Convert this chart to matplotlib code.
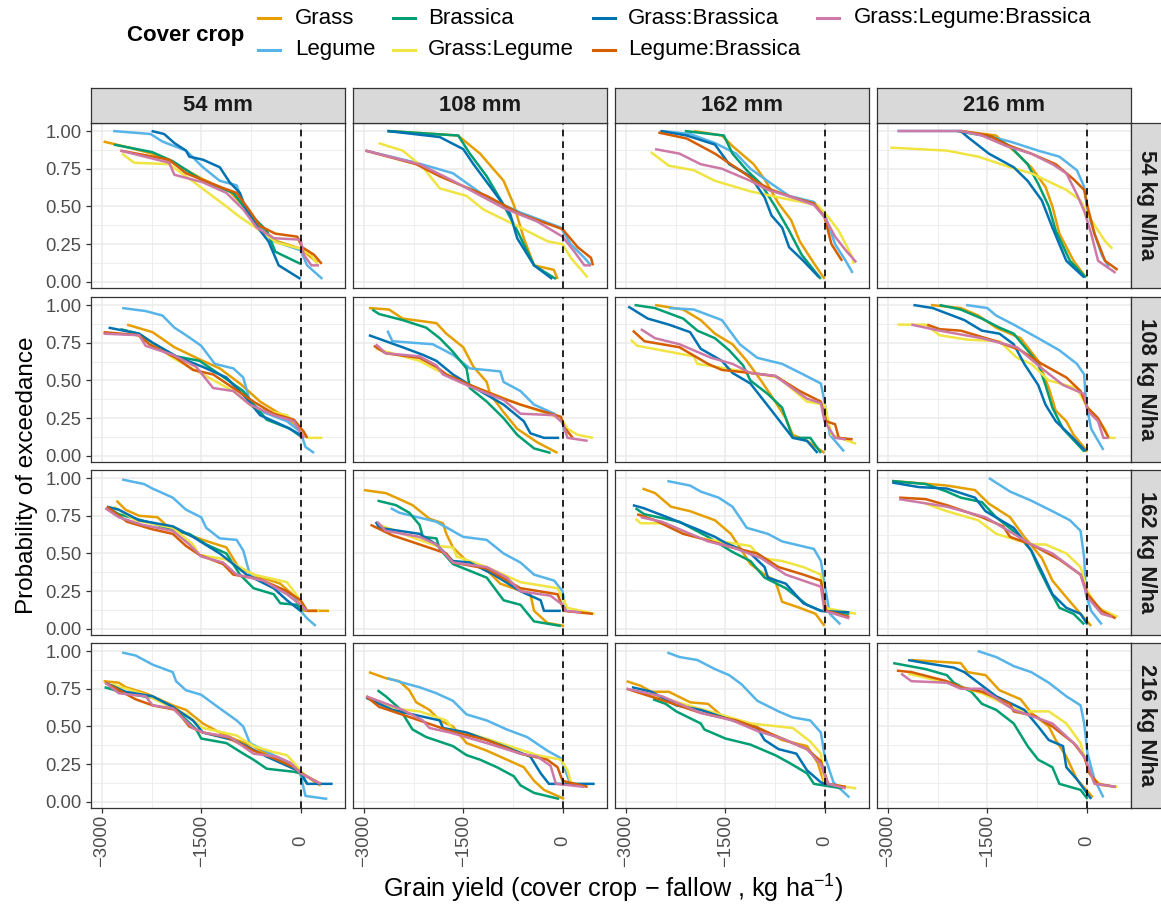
import matplotlib
matplotlib.use("Agg")
import matplotlib.pyplot as plt
from matplotlib.lines import Line2D

plt.rcParams['font.family'] = ['Liberation Sans', 'DejaVu Sans']
plt.rcParams['mathtext.fontset'] = 'custom'
plt.rcParams['mathtext.rm'] = 'Liberation Sans'
plt.rcParams['mathtext.it'] = 'Liberation Sans:italic'
plt.rcParams['mathtext.bf'] = 'Liberation Sans:bold'

# facet labels
RAIN = ['54 mm', '108 mm', '162 mm', '216 mm']
NRATE = ['54 kg N/ha', '108 kg N/ha', '162 kg N/ha', '216 kg N/ha']

COVER_CROPS = ['Grass', 'Legume', 'Brassica', 'Grass:Legume', 'Grass:Brassica',
               'Legume:Brassica', 'Grass:Legume:Brassica']
COLOURS = ['#E69F00', '#56B4E9', '#009E73', '#F0E442', '#0072B2', '#D55E00', '#CC79A7']

# each list: 16 curves, row-major (N rate rows x rainfall columns)
# points are (yield difference kg/ha, probability of exceedance)
GRASS = [
    [(-2975, .93), (-2590, .89), (-2240, .85), (-1930, .79), (-1475, .68), (-1070, .60), (-815, .48), (-610, .36), (-355, .27), (0, .22), (255, .13)],
    [(-2645, 1.0), (-1580, .97), (-1245, .85), (-890, .67), (-735, .51), (-585, .29), (-430, .11), (-130, .08), (-75, .02)],
    [(-1975, 1.0), (-1550, .97), (-1390, .90), (-1070, .78), (-905, .68), (-695, .52), (-505, .41), (-375, .27), (-185, .14), (0, .02)],
    [(-1900, 1.0), (-1370, .97), (-1100, .87), (-835, .76), (-620, .63), (-515, .50), (-410, .32), (-195, .14), (-10, .03)],
    [(-2620, .87), (-2235, .82), (-1905, .72), (-1525, .64), (-1220, .58), (-915, .48), (-610, .36), (-205, .25), (0, .18), (100, .12)],
    [(-2925, .98), (-2620, .97), (-2415, .91), (-1905, .88), (-1755, .81), (-1500, .72), (-1345, .59), (-1145, .49), (-1095, .41), (-890, .29), (-685, .18), (-380, .09), (-75, .02)],
    [(-2560, 1.0), (-2135, .97), (-1870, .90), (-1655, .81), (-1390, .74), (-1175, .63), (-960, .50), (-745, .36), (-585, .25), (-480, .14), (-265, .10), (0, .02)],
    [(-2350, 1.0), (-1900, .98), (-1635, .93), (-1365, .85), (-995, .78), (-730, .63), (-570, .45), (-465, .30), (-305, .23), (-195, .14), (15, .03)],
    [(-2780, .85), (-2645, .79), (-2440, .75), (-2160, .74), (-2035, .69), (-1730, .63), (-1475, .59), (-1120, .54), (-940, .41), (-710, .36), (-305, .30), (-100, .22), (50, .12), (430, .12)],
    [(-3000, .92), (-2670, .90), (-2515, .87), (-2265, .82), (-2010, .73), (-1805, .70), (-1755, .63), (-1655, .54), (-1450, .45), (-1145, .39), (-940, .30), (-485, .23), (-430, .12), (-230, .04), (25, .02)],
    [(-2750, .93), (-2560, .90), (-2320, .81), (-2030, .78), (-1655, .72), (-1415, .63), (-1280, .54), (-1120, .43), (-905, .36), (-745, .32), (-640, .18), (-375, .14), (-135, .10), (0, .02)],
    [(-2940, .98), (-2110, .95), (-1685, .92), (-1475, .83), (-1155, .74), (-940, .61), (-675, .47), (-515, .32), (-305, .21), (-90, .10), (70, .02)],
    [(-2975, .80), (-2745, .79), (-2640, .76), (-2340, .72), (-1930, .64), (-1730, .61), (-1475, .52), (-1220, .46), (-965, .41), (-710, .37), (-405, .29), (0, .20), (255, .12), (305, .11)],
    [(-2925, .86), (-2670, .82), (-2465, .80), (-2315, .74), (-2210, .66), (-2010, .61), (-1855, .54), (-1655, .50), (-1450, .39), (-1145, .34), (-840, .28), (-585, .23), (-430, .14), (-280, .08), (25, .02)],
    [(-2990, .80), (-2780, .77), (-2615, .73), (-2350, .73), (-2030, .66), (-1760, .65), (-1550, .57), (-1120, .52), (-905, .47), (-640, .41), (-265, .37), (-105, .26), (0, .12), (320, .10)],
    [(-2645, .94), (-1900, .92), (-1795, .86), (-1525, .84), (-1315, .74), (-995, .68), (-835, .59), (-570, .50), (-465, .41), (-305, .30), (-145, .15), (95, .03)],
]

LEGUME = [
    [(-2830, 1.0), (-2265, .98), (-2085, .93), (-1730, .87), (-1475, .76), (-1220, .67), (-965, .64), (-865, .51), (-710, .40), (-405, .27), (0, .21), (100, .11), (330, .02)],
    [(-2975, .87), (-2210, .79), (-1655, .72), (-1145, .56), (-635, .46), (-25, .36), (125, .25), (330, .16), (430, .11)],
    [(-2455, 1.0), (-2030, .98), (-1655, .92), (-1335, .85), (-1120, .75), (-800, .65), (-535, .57), (-160, .53), (0, .45), (160, .25), (320, .14), (425, .06)],
    [(-2855, 1.0), (-1900, 1.0), (-1525, .97), (-1155, .93), (-730, .87), (-410, .83), (-145, .74), (-35, .63), (15, .47), (120, .32), (230, .18), (335, .10)],
    [(-2695, .98), (-2340, .96), (-2085, .93), (-1905, .85), (-1730, .80), (-1500, .73), (-1295, .61), (-1015, .58), (-865, .52), (-765, .36), (-560, .29), (-205, .23), (0, .16), (75, .06), (205, .02)],
    [(-2645, .83), (-2570, .76), (-1960, .74), (-1655, .67), (-1400, .58), (-940, .56), (-890, .49), (-635, .43), (-430, .34), (-125, .28), (0, .23), (25, .16)],
    [(-2350, .98), (-1975, .97), (-1550, .90), (-1280, .74), (-1015, .65), (-640, .61), (-320, .54), (-55, .48), (0, .36), (80, .14), (295, .03)],
    [(-1820, 1.0), (-1500, .98), (-1365, .93), (-1100, .87), (-730, .78), (-410, .70), (-145, .61), (-35, .54), (-10, .36), (70, .18), (255, .04)],
    [(-2695, .99), (-2365, .96), (-2235, .93), (-1930, .87), (-1730, .79), (-1500, .74), (-1425, .67), (-1220, .60), (-965, .59), (-865, .52), (-765, .36), (-405, .27), (-100, .22), (0, .12), (100, .07), (230, .02)],
    [(-2595, .80), (-2465, .77), (-1905, .71), (-1500, .61), (-1145, .59), (-890, .50), (-635, .44), (-430, .36), (-125, .32), (0, .25), (50, .12)],
    [(-2375, .98), (-2030, .95), (-1870, .91), (-1600, .87), (-1390, .81), (-1175, .67), (-855, .63), (-640, .58), (-160, .53), (-55, .45), (0, .30), (80, .10), (240, .03)],
    [(-1475, 1.0), (-1155, .91), (-835, .85), (-515, .78), (-250, .72), (-90, .65), (-35, .47), (-10, .23), (70, .12), (230, .03)],
    [(-2695, .99), (-2490, .97), (-2235, .91), (-1930, .86), (-1880, .80), (-1730, .74), (-1500, .71), (-1220, .62), (-965, .54), (-865, .50), (-765, .39), (-405, .31), (-100, .24), (0, .18), (75, .04), (405, .02)],
    [(-2645, .82), (-2415, .79), (-2160, .76), (-1905, .72), (-1655, .67), (-1450, .58), (-1145, .54), (-840, .48), (-535, .43), (-230, .34), (-25, .29), (25, .23), (125, .11)],
    [(-2375, .99), (-2190, .96), (-1920, .94), (-1655, .88), (-1440, .84), (-1255, .78), (-1015, .67), (-695, .60), (-480, .56), (-215, .54), (-55, .46), (0, .31), (135, .13), (375, .03)],
    [(-1645, 1.0), (-1365, .96), (-1100, .90), (-835, .86), (-570, .79), (-305, .70), (-90, .64), (-35, .52), (15, .32), (120, .15), (255, .03)],
]

BRASSICA = [
    [(-2820, .91), (-2240, .86), (-1930, .80), (-1475, .67), (-1015, .59), (-765, .45), (-510, .34), (-380, .20), (0, .12)],
    [(-2645, 1.0), (-1575, .97), (-1400, .85), (-1145, .70), (-890, .51), (-685, .34), (-430, .11), (-100, .02)],
    [(-2110, 1.0), (-1520, .97), (-1390, .85), (-1175, .74), (-960, .65), (-745, .50), (-535, .34), (-345, .18), (-55, .02)],
    [(-1955, 1.0), (-1420, .96), (-1155, .90), (-890, .78), (-730, .65), (-570, .50), (-465, .34), (-250, .14), (-10, .03)],
    [(-2720, .84), (-2440, .81), (-2240, .75), (-1880, .66), (-1525, .63), (-1220, .54), (-865, .43), (-710, .34), (-510, .24), (-155, .18), (0, .13)],
    [(-2875, .97), (-2770, .94), (-2415, .90), (-2060, .85), (-1855, .78), (-1655, .69), (-1450, .58), (-1400, .45), (-1145, .36), (-890, .25), (-685, .14), (-430, .05), (-180, .02)],
    [(-2870, 1.0), (-2565, .98), (-2135, .91), (-1920, .83), (-1655, .78), (-1440, .70), (-1230, .60), (-1120, .50), (-855, .41), (-640, .32), (-480, .12), (-215, .12), (-55, .02)],
    [(-2220, 1.0), (-1900, .97), (-1580, .91), (-1315, .85), (-1100, .81), (-835, .67), (-730, .61), (-620, .47), (-515, .32), (-355, .18), (-35, .03)],
    [(-2900, .80), (-2745, .76), (-2235, .70), (-1905, .65), (-1680, .63), (-1425, .56), (-1120, .50), (-915, .36), (-710, .27), (-405, .23), (-305, .17), (-50, .16), (25, .12)],
    [(-2795, .85), (-2515, .82), (-2315, .77), (-2160, .69), (-2110, .61), (-1905, .60), (-1855, .53), (-1655, .43), (-1145, .34), (-890, .19), (-635, .16), (-430, .05), (-25, .02)],
    [(-2855, .80), (-2725, .76), (-2190, .71), (-1760, .61), (-1390, .51), (-1120, .45), (-905, .34), (-585, .27), (-265, .16), (-55, .12), (375, .10)],
    [(-2935, .98), (-2430, .96), (-2110, .91), (-1900, .87), (-1580, .84), (-1365, .74), (-1050, .63), (-835, .52), (-730, .41), (-570, .27), (-410, .14), (-195, .10), (-35, .03)],
    [(-2960, .76), (-2645, .72), (-2235, .69), (-1930, .63), (-1575, .48), (-1500, .42), (-1120, .39), (-865, .32), (-710, .28), (-510, .22), (-100, .20), (0, .19), (100, .12)],
    [(-2795, .74), (-2670, .70), (-2465, .62), (-2265, .48), (-2060, .43), (-1655, .37), (-1450, .31), (-1245, .28), (-990, .23), (-735, .17), (-635, .11), (-430, .06), (-50, .02)],
    [(-2590, .68), (-2400, .65), (-2240, .60), (-1870, .52), (-1815, .48), (-1495, .42), (-1120, .38), (-745, .31), (-535, .26), (-265, .19), (-160, .12), (265, .09)],
    [(-2920, .92), (-2430, .88), (-2110, .84), (-2005, .79), (-1740, .73), (-1580, .65), (-1365, .61), (-1100, .52), (-890, .37), (-730, .28), (-515, .23), (-410, .12), (-90, .08), (15, .02)],
]

GRASS_LEGUME = [
    [(-2695, .85), (-2515, .79), (-1985, .78), (-1575, .65), (-1120, .50), (-915, .43), (-610, .34), (-355, .26), (0, .22), (155, .18), (255, .12)],
    [(-2780, .92), (-2415, .87), (-2110, .76), (-1855, .62), (-1450, .57), (-1195, .48), (-635, .36), (-230, .27), (0, .25), (125, .16), (380, .03)],
    [(-2625, .86), (-2350, .77), (-1975, .74), (-1655, .67), (-1120, .60), (-585, .55), (-105, .51), (55, .43), (215, .34), (425, .16), (440, .12)],
    [(-2965, .89), (-2110, .87), (-1635, .83), (-1155, .76), (-835, .72), (-305, .61), (-90, .54), (15, .45), (175, .34), (280, .27), (390, .22)],
    [(-2620, .83), (-2240, .75), (-1930, .65), (-1475, .54), (-1015, .43), (-710, .32), (-205, .27), (0, .18), (100, .12), (330, .12)],
    [(-2820, .71), (-2160, .63), (-1905, .57), (-1400, .47), (-635, .34), (-25, .25), (75, .18), (230, .14), (460, .12)],
    [(-2925, .77), (-2830, .73), (-1975, .66), (-1920, .61), (-1495, .58), (-695, .52), (-265, .36), (0, .34), (105, .14), (480, .08)],
    [(-2855, .87), (-2430, .87), (-2220, .80), (-1795, .77), (-1315, .76), (-1050, .65), (-835, .61), (-570, .50), (-145, .45), (15, .32), (280, .18), (335, .12), (440, .12)],
    [(-2820, .81), (-2490, .72), (-1930, .67), (-1625, .56), (-1525, .49), (-1120, .46), (-710, .36), (-405, .33), (-205, .31), (0, .19), (100, .12), (280, .12)],
    [(-2820, .70), (-2415, .63), (-1905, .55), (-1655, .54), (-1600, .48), (-1145, .41), (-635, .31), (-75, .27), (75, .14), (485, .10)],
    [(-2855, .73), (-2775, .70), (-2455, .70), (-1870, .60), (-1120, .55), (-960, .47), (-640, .45), (-320, .41), (-55, .36), (0, .14), (480, .10)],
    [(-2430, .83), (-2110, .78), (-1635, .72), (-1365, .63), (-835, .56), (-620, .56), (-305, .50), (-90, .41), (15, .25), (175, .14), (470, .08)],
    [(-2850, .78), (-2340, .71), (-1730, .58), (-1475, .49), (-965, .44), (-710, .37), (-405, .33), (-205, .31), (-100, .26), (50, .18), (305, .12)],
    [(-2965, .70), (-2570, .62), (-2160, .60), (-1755, .54), (-1655, .48), (-1450, .46), (-940, .39), (-380, .31), (-25, .28), (75, .21), (125, .13)],
    [(-2855, .73), (-2615, .71), (-1655, .59), (-1120, .52), (-480, .49), (-215, .40), (-55, .32), (0, .12), (480, .09)],
    [(-2695, .85), (-2110, .79), (-1580, .72), (-1100, .62), (-940, .60), (-570, .60), (-305, .52), (-90, .39), (-35, .30), (70, .17), (230, .11), (470, .10)],
]

GRASS_BRASSICA = [
    [(-2250, 1.0), (-2060, .98), (-1905, .92), (-1730, .87), (-1680, .83), (-1475, .81), (-1220, .76), (-1070, .66), (-915, .59), (-815, .47), (-610, .34), (-485, .27), (-330, .11), (0, .02)],
    [(-2645, 1.0), (-1855, .96), (-1500, .88), (-1345, .78), (-1040, .60), (-790, .45), (-685, .29), (-430, .11), (-155, .02)],
    [(-2480, 1.0), (-2080, .97), (-1655, .91), (-1440, .78), (-1120, .70), (-905, .56), (-800, .44), (-640, .36), (-535, .23), (-320, .14), (-80, .03)],
    [(-1900, 1.0), (-1795, .96), (-1475, .85), (-1100, .76), (-890, .67), (-675, .54), (-515, .36), (-305, .14), (-35, .03)],
    [(-2900, .85), (-2440, .81), (-2235, .75), (-1880, .66), (-1475, .59), (-1120, .52), (-815, .38), (-610, .27), (-205, .19), (0, .14), (50, .12)],
    [(-2925, .80), (-2415, .72), (-2110, .67), (-1905, .63), (-1655, .54), (-1400, .47), (-890, .34), (-585, .23), (-485, .15), (-280, .12), (-50, .12)],
    [(-2965, .99), (-2670, .91), (-2350, .87), (-2030, .82), (-1870, .71), (-1550, .63), (-1390, .55), (-1120, .48), (-905, .36), (-745, .27), (-480, .12), (-265, .10), (-105, .02)],
    [(-2615, 1.0), (-2325, .98), (-1845, .90), (-1580, .83), (-1315, .81), (-1100, .74), (-940, .61), (-730, .47), (-620, .34), (-465, .23), (-250, .14), (-10, .03)],
    [(-2925, .81), (-2745, .79), (-2440, .72), (-1930, .68), (-1625, .61), (-1220, .50), (-1015, .43), (-815, .36), (-405, .27), (-205, .19), (0, .12)],
    [(-2820, .71), (-2770, .67), (-2160, .63), (-1905, .56), (-1655, .45), (-1400, .44), (-1040, .36), (-635, .25), (-330, .19), (-280, .12), (-25, .12)],
    [(-2895, .82), (-2730, .80), (-2375, .74), (-1920, .66), (-1655, .61), (-1495, .57), (-1120, .50), (-905, .41), (-855, .34), (-585, .30), (-320, .17), (-55, .12), (375, .11)],
    [(-2935, .97), (-2535, .94), (-2110, .93), (-1685, .87), (-1525, .78), (-1100, .67), (-835, .52), (-675, .38), (-515, .23), (-305, .14), (-90, .10), (15, .03)],
    [(-2950, .79), (-2645, .73), (-2235, .70), (-1930, .63), (-1625, .54), (-1475, .46), (-1015, .41), (-815, .37), (-510, .30), (-205, .24), (0, .20), (100, .12), (485, .12)],
    [(-2965, .69), (-2570, .61), (-1855, .54), (-1805, .49), (-1450, .46), (-890, .37), (-485, .30), (-330, .19), (-205, .12), (485, .12)],
    [(-2910, .76), (-2615, .73), (-2240, .64), (-1870, .61), (-1390, .54), (-1015, .49), (-905, .41), (-695, .35), (-425, .32), (-265, .21), (-55, .13), (0, .12), (265, .10)],
    [(-2695, .94), (-2430, .92), (-2005, .89), (-1845, .86), (-1635, .79), (-1365, .70), (-940, .61), (-730, .50), (-570, .41), (-355, .37), (-305, .23), (-145, .15), (70, .02)],
]

LEGUME_BRASSICA = [
    [(-2720, .87), (-1985, .81), (-1730, .72), (-1220, .63), (-965, .59), (-765, .47), (-610, .37), (-380, .32), (-50, .30), (25, .23), (205, .18), (320, .12)],
    [(-2975, .87), (-2210, .78), (-1855, .70), (-1145, .57), (-635, .45), (0, .35), (230, .23), (430, .16), (460, .11)],
    [(-2510, .99), (-2080, .95), (-1655, .85), (-1280, .74), (-1015, .66), (-800, .61), (-480, .56), (-160, .52), (0, .43), (105, .25), (265, .14)],
    [(-1900, 1.0), (-1470, .97), (-1210, .91), (-835, .85), (-465, .78), (-195, .68), (-35, .61), (15, .50), (120, .32), (280, .14), (470, .08)],
    [(-2975, .82), (-2440, .80), (-2285, .74), (-1880, .65), (-1625, .57), (-1320, .54), (-1015, .45), (-710, .36), (-405, .28), (-100, .24), (50, .16), (100, .12)],
    [(-2850, .73), (-2670, .68), (-2160, .65), (-1905, .59), (-1755, .54), (-1400, .47), (-890, .38), (-635, .34), (-25, .26), (25, .19), (155, .12)],
    [(-2895, .83), (-2720, .76), (-2190, .72), (-1760, .61), (-1550, .57), (-1120, .55), (-745, .53), (-375, .43), (-55, .36), (25, .23), (160, .21), (215, .12), (425, .11)],
    [(-2405, .87), (-2220, .84), (-1900, .83), (-1365, .76), (-995, .70), (-675, .61), (-305, .52), (-90, .43), (15, .32), (175, .25), (335, .12)],
    [(-2925, .81), (-2620, .71), (-2235, .66), (-1930, .63), (-1730, .55), (-1525, .49), (-1170, .43), (-1015, .36), (-610, .33), (-205, .25), (0, .19), (100, .12), (255, .12)],
    [(-2900, .69), (-2570, .62), (-2160, .56), (-1755, .50), (-1655, .44), (-1145, .40), (-635, .27), (-75, .23), (25, .12), (460, .10)],
    [(-2830, .76), (-2560, .72), (-2135, .63), (-1870, .60), (-1390, .54), (-1015, .50), (-695, .41), (-320, .36), (-55, .32), (25, .12), (375, .08)],
    [(-2830, .87), (-2430, .86), (-2110, .82), (-1580, .74), (-1260, .68), (-1155, .61), (-835, .56), (-410, .46), (-90, .36), (15, .23), (230, .12), (440, .07)],
    [(-2950, .79), (-2490, .68), (-2235, .64), (-1880, .61), (-1680, .50), (-1475, .46), (-1120, .43), (-710, .34), (-405, .29), (-100, .23), (50, .18), (305, .12)],
    [(-2965, .70), (-2770, .63), (-2160, .54), (-1700, .47), (-1145, .41), (-635, .32), (-230, .28), (-75, .23), (0, .14), (380, .10)],
    [(-2990, .75), (-2350, .66), (-1870, .59), (-1335, .54), (-1015, .49), (-585, .41), (-265, .35), (-55, .27), (55, .12), (320, .10)],
    [(-2865, .87), (-2645, .86), (-2110, .80), (-1900, .76), (-1580, .73), (-1155, .65), (-1100, .60), (-780, .57), (-515, .50), (-195, .39), (-35, .30), (45, .19), (175, .12), (440, .10)],
]

GRASS_LEGUME_BRASSICA = [
    [(-2720, .87), (-1985, .79), (-1905, .71), (-1475, .66), (-1120, .59), (-865, .48), (-660, .36), (-405, .29), (0, .28), (50, .18), (165, .11), (280, .11)],
    [(-2975, .87), (-2160, .78), (-1655, .67), (-890, .49), (-380, .40), (0, .30), (180, .20), (330, .11), (430, .11)],
    [(-2560, .88), (-2190, .85), (-1870, .78), (-1550, .75), (-1120, .67), (-855, .61), (-480, .56), (-160, .51), (0, .43), (160, .30), (320, .21), (480, .13)],
    [(-2855, 1.0), (-1900, 1.0), (-1580, .97), (-1210, .90), (-835, .85), (-515, .78), (-305, .72), (-145, .58), (-35, .47), (70, .32), (175, .14), (440, .06)],
    [(-2975, .81), (-2440, .80), (-2340, .73), (-1930, .67), (-1575, .59), (-1320, .45), (-1015, .43), (-765, .34), (-405, .27), (-100, .23), (50, .12)],
    [(-2820, .74), (-2670, .68), (-2160, .66), (-1905, .60), (-1805, .54), (-1400, .46), (-890, .37), (-635, .28), (-125, .27), (0, .22), (75, .12), (380, .10)],
    [(-2775, .84), (-2560, .78), (-2190, .74), (-1710, .65), (-1390, .61), (-1120, .55), (-745, .53), (-265, .38), (-55, .35), (0, .23), (160, .12), (320, .11)],
    [(-2645, .87), (-2220, .83), (-1580, .78), (-1050, .72), (-675, .58), (-355, .47), (-35, .41), (15, .30), (175, .23), (255, .12), (335, .12)],
    [(-2950, .80), (-2745, .74), (-2390, .69), (-1930, .65), (-1680, .56), (-1500, .48), (-1170, .44), (-965, .36), (-560, .32), (-205, .23), (0, .16), (100, .12)],
    [(-2800, .71), (-2670, .65), (-2160, .61), (-1905, .56), (-1655, .44), (-1145, .41), (-840, .34), (-635, .25), (-180, .22), (0, .16), (50, .12), (280, .11)],
    [(-2775, .74), (-2455, .71), (-1760, .58), (-1390, .54), (-960, .47), (-585, .36), (-55, .28), (0, .12), (375, .07)],
    [(-2830, .86), (-2110, .81), (-1525, .74), (-1100, .63), (-835, .56), (-515, .50), (-90, .36), (15, .21), (230, .10), (390, .08)],
    [(-2950, .79), (-2745, .72), (-2340, .70), (-2235, .64), (-1930, .62), (-1625, .49), (-1475, .46), (-1070, .43), (-710, .32), (-355, .30), (-155, .26), (0, .19), (305, .12)],
    [(-2965, .70), (-2415, .61), (-2110, .54), (-2010, .49), (-1700, .46), (-1145, .39), (-635, .32), (-380, .30), (-180, .24), (-100, .12), (330, .10)],
    [(-2990, .75), (-2455, .70), (-1870, .59), (-1390, .54), (-1015, .47), (-640, .42), (-265, .35), (-55, .25), (55, .12), (320, .09)],
    [(-2800, .85), (-2645, .80), (-2110, .79), (-1900, .75), (-1580, .75), (-1100, .61), (-835, .57), (-515, .52), (-145, .37), (-10, .28), (120, .12), (440, .10)],
]

SERIES = [GRASS, LEGUME, BRASSICA, GRASS_LEGUME, GRASS_BRASSICA,
          LEGUME_BRASSICA, GRASS_LEGUME_BRASSICA]

W, H = 1161, 909
fig = plt.figure(figsize=(W / 100, H / 100), dpi=100)


def rect(left, top, w, h):
    return [left / W, 1 - (top + h) / H, w / W, h / H]


LEFTS = [91, 353, 615, 877]
TOPS = [123, 297, 470, 643]
PW, PH = 254, 165
BORDER = '#333333'
GRID = '#EBEBEB'
STRIP_FILL = '#D9D9D9'

for r in range(4):
    for c in range(4):
        ax = fig.add_axes(rect(LEFTS[c], TOPS[r], PW, PH))
        for curves, col in zip(SERIES, COLOURS):
            pts = curves[r * 4 + c]
            ax.plot([p[0] for p in pts], [p[1] for p in pts], color=col,
                    lw=1.8, solid_joinstyle='round', solid_capstyle='butt', zorder=3)
        ax.axvline(0, color='black', lw=1.2, ls=(0, (4, 3)), zorder=4)

        ax.set_xlim(-3165, 672)
        ax.set_ylim(-0.04, 1.053)
        ax.set_xticks([-3000, -1500, 0])
        ax.set_xticks([-2250, -750], minor=True)
        ax.set_yticks([0, 0.25, 0.5, 0.75, 1.0])
        ax.set_yticks([0.125, 0.375, 0.625, 0.875], minor=True)
        ax.grid(which='major', color=GRID, lw=1.1)
        ax.grid(which='minor', color=GRID, lw=0.6)
        ax.set_axisbelow(True)
        for sp in ax.spines.values():
            sp.set_color(BORDER)
            sp.set_linewidth(0.9)
        ax.tick_params(which='minor', length=0)
        ax.tick_params(which='major', color=BORDER, width=0.9, length=3.6,
                       labelsize=13.3, labelcolor='#4D4D4D')

        if c == 0:
            ax.set_yticklabels(['0.00', '0.25', '0.50', '0.75', '1.00'])
            ax.tick_params(axis='y', pad=3.4)
        else:
            ax.tick_params(axis='y', length=0, labelleft=False)
        if r == 3:
            ax.tick_params(axis='x', labelrotation=90, pad=20)
            for t in ax.xaxis.get_major_ticks():
                t.label1.set_verticalalignment('center')
        else:
            ax.tick_params(axis='x', length=0, labelbottom=False)

# strips
for c in range(4):
    s = fig.add_axes(rect(LEFTS[c], 88, PW, 35))
    s.set_facecolor(STRIP_FILL)
    s.set_xticks([]); s.set_yticks([])
    for sp in s.spines.values():
        sp.set_color(BORDER); sp.set_linewidth(0.9)
    s.text(0.5, 0.5, RAIN[c], ha='center', va='center', fontsize=15.8,
           fontweight='bold', color='#1A1A1A', transform=s.transAxes)

for r in range(4):
    s = fig.add_axes(rect(1131, TOPS[r], 32, PH))
    s.set_facecolor(STRIP_FILL)
    s.set_xticks([]); s.set_yticks([])
    for sp in s.spines.values():
        sp.set_color(BORDER); sp.set_linewidth(0.9)
    fig.text(1147 / W, 1 - (TOPS[r] + PH / 2) / H, NRATE[r], rotation=-90,
             ha='center', va='center', fontsize=15.8, fontweight='bold', color='#1A1A1A')

# axis titles
fig.text(613 / W, 1 - 889 / H, 'Grain yield (cover crop \u2212 fallow , kg ha$^{-1}$)',
         ha='center', va='center', fontsize=18.2)
fig.text(27 / W, 1 - 475 / H, 'Probability of exceedance', rotation=90,
         ha='center', va='center', fontsize=17.5)

# legend
fig.text(127 / W, 1 - 35 / H, 'Cover crop', ha='left', va='center',
         fontsize=16, fontweight='bold')
key_x = [258, 393, 593, 817]
text_x = [295, 428, 628, 854]
row_y = [18, 50]
for i, (name, col) in enumerate(zip(COVER_CROPS, COLOURS)):
    cc, rr = i // 2, i % 2
    y = 1 - row_y[rr] / H
    fig.add_artist(Line2D([key_x[cc] / W, (key_x[cc] + 22) / W], [y, y],
                          color=col, lw=2.2, transform=fig.transFigure))
    fig.text(text_x[cc] / W, y, name, ha='left', va='center', fontsize=16)

fig.savefig('out.png', dpi=100)
